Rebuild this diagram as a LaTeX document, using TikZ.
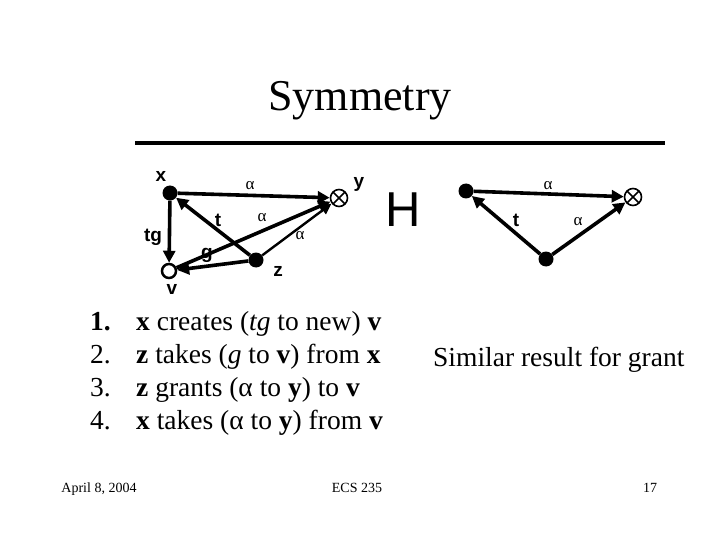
\documentclass[tikz,border=0pt]{standalone}
\usepackage{fontspec}
\setmainfont{Liberation Serif}
\newfontfamily\sansf{Liberation Sans}
\usetikzlibrary{arrows.meta}
\begin{document}
\begin{tikzpicture}[x=1pt,y=-1pt,
  full/.style={circle,fill=black,inner sep=0pt,minimum size=15pt},
  open/.style={circle,draw=black,line width=2.5pt,fill=white,inner sep=0pt,minimum size=14pt},
  obj/.style={circle,draw=black,line width=1.6pt,fill=white,inner sep=0pt,minimum size=17pt,
    path picture={\draw[line width=1.6pt] (path picture bounding box.north west) -- (path picture bounding box.south east)
      (path picture bounding box.north east) -- (path picture bounding box.south west);}},
  edge/.style={line width=3.6pt,-{Triangle[length=12pt,width=12pt]}},
  thinedge/.style={line width=2.4pt,-{Triangle[length=11pt,width=10pt]}},
  lab/.style={font=\sansf\bfseries\fontsize{19}{21}\selectfont,inner sep=0pt},
  alab/.style={font=\fontsize{17}{19}\selectfont,inner sep=0pt},
  item/.style={anchor=base west,inner sep=0pt,font=\fontsize{27.5}{32}\selectfont},
  foot/.style={anchor=base,inner sep=0pt,font=\fontsize{14}{16}\selectfont}]
\useasboundingbox (0,0) rectangle (720,540);
% title
\node[anchor=base,inner sep=0pt,font=\fontsize{44}{50}\selectfont] (title) at (360,111) {Symmetry};
\draw[line width=4.5pt] (135,143) -- (665,143);
% left graph
\node[full] (x) at (170,193) {};
\node[obj] (y) at (339,198) {};
\node[open] (v) at (169,271) {};
\node[full] (z) at (256,260) {};
\draw[edge] (x) -- (y);
\draw[edge] (x) -- (v);
\draw[edge] (z) -- (x);
\draw[edge] (v) -- (y);
\draw[thinedge] (z) -- (y);
\draw[edge] (z) -- (v);
\node[lab] (lx) at (161,176) {x};
\node[lab] (ly) at (359,184) {y};
\node[lab] (lv) at (172,289) {v};
\node[lab] (lz) at (278,271) {z};
\node[lab] (ltg) at (153,237) {tg};
\node[lab] (lt) at (218,220) {t};
\node[lab] (lg) at (207,255) {g};
\node[alab] (a1) at (250,186) {α};
\node[alab] (a2) at (262,218) {α};
\node[alab] (a3) at (300,236) {α};
\node[inner sep=0pt,font=\sansf\fontsize{49}{52}\selectfont] (H) at (403,210) {H};
% right graph
\node[full] (p) at (466,191) {};
\node[obj] (q) at (633,197) {};
\node[full] (r) at (546,259) {};
\draw[edge] (p) -- (q);
\draw[edge] (r) -- (p);
\draw[edge] (r) -- (q);
\node[alab] (b1) at (548,186) {α};
\node[lab] (lt2) at (516,220) {t};
\node[alab] (b2) at (578,222) {α};
% list
\node[item] (n1) at (90,330) {\textbf{1.}};
\node[item] (n2) at (90,363) {2.};
\node[item] (n3) at (90,396) {3.};
\node[item] (n4) at (90,429) {4.};
\node[item] (t1) at (136,330) {\textbf{x} creates (\textit{tg} to new) \textbf{v}};
\node[item] (t2) at (136,363) {\textbf{z} takes (\textit{g} to \textbf{v}) from \textbf{x}};
\node[item] (t3) at (136,396) {\textbf{z} grants (α to \textbf{y}) to \textbf{v}};
\node[item] (t4) at (136,429) {\textbf{x} takes (α to \textbf{y}) from \textbf{v}};
\node[item] (sim) at (433,366) {Similar result for grant};
% footer
\node[foot] (date) at (99,492) {April 8, 2004};
\node[foot] (ecs) at (357,492) {ECS 235};
\node[foot] (pg) at (650,492) {17};
\end{tikzpicture}
\end{document}
